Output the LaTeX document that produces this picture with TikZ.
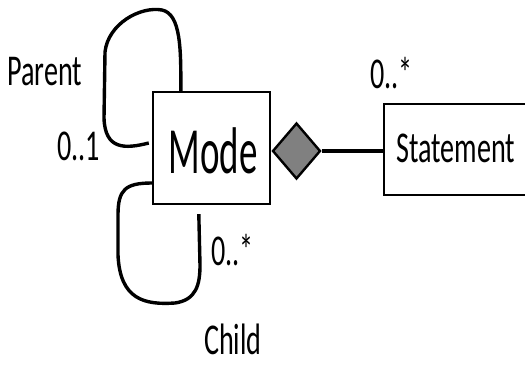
\documentclass[tikz,border=0pt]{standalone}
\usepackage{fontspec}
\usetikzlibrary{shapes.geometric,calc}
% Calibri-metric face, narrowed
\newfontfamily\labfont[FakeStretch=0.64]{Carlito}
\newfontfamily\bigfont[FakeStretch=0.56]{Carlito}
\begin{document}
\begin{tikzpicture}[x=1pt,y=-1pt,
  classbox/.style={draw=black,line width=2.4pt,fill=white,inner sep=0pt},
  conn/.style={draw=black,line width=3.4pt},
  lab/.style={inner sep=0pt,font=\labfont\fontsize{44}{44}\selectfont}]
\useasboundingbox (0,0) rectangle (525,365);

% classes
\node[classbox,minimum width=117pt,minimum height=112pt] (mode) at (211.5,148) {};
\node[inner sep=0pt,anchor=base] at (213,173) (modetxt) {\bigfont\fontsize{66}{66}\selectfont Mode};
\node[classbox,minimum width=150pt,minimum height=91pt,anchor=north west] (stmt) at (383,103) {};
\node[lab,anchor=base west] (stmttxt) at (396,162) {Statement};

% composition diamond and link
\node[diamond,draw=black,line width=2.4pt,fill=black!50,inner sep=0pt,
      minimum width=48pt,minimum height=56pt] (dia) at (296.5,151) {};
\draw[conn] (dia.east) -- (stmt.west |- dia.east);

% self-association loops
\coordinate (pstart) at ([xshift=29pt]mode.north west);
\coordinate (pend) at ($(mode.west)+(-3,-5)$);
\draw[conn] (pstart) .. controls (181,50) and (181,14) .. (162,10)
  .. controls (140,6) and (108,24) .. (105,52) -- (104,118)
  .. controls (105,150) and (125,149) .. (pend);

\coordinate (cstart) at ($(mode.west)+(0,35)$);
\coordinate (cend) at ([xshift=47pt,yshift=-9pt]mode.south west);
\draw[conn] (cstart) .. controls (125,183) and (118,190) .. (118,215) -- (118,255)
  .. controls (120,300) and (145,305) .. (175,303)
  .. controls (196,300) and (200,285) .. (200,265) -- (cend);

% role names and multiplicities
\node[lab,anchor=base west] (parent) at (7,85) {Parent};
\node[lab,anchor=base east] (m01) at (100,160) {0..1};
\node[lab,anchor=base west] (mstar1) at (211,265) {0..*};
\node[lab,anchor=base west] (child) at (204,354) {Child};
\node[lab,anchor=base west] (mstar2) at (370,88) {0..*};
\end{tikzpicture}
\end{document}
